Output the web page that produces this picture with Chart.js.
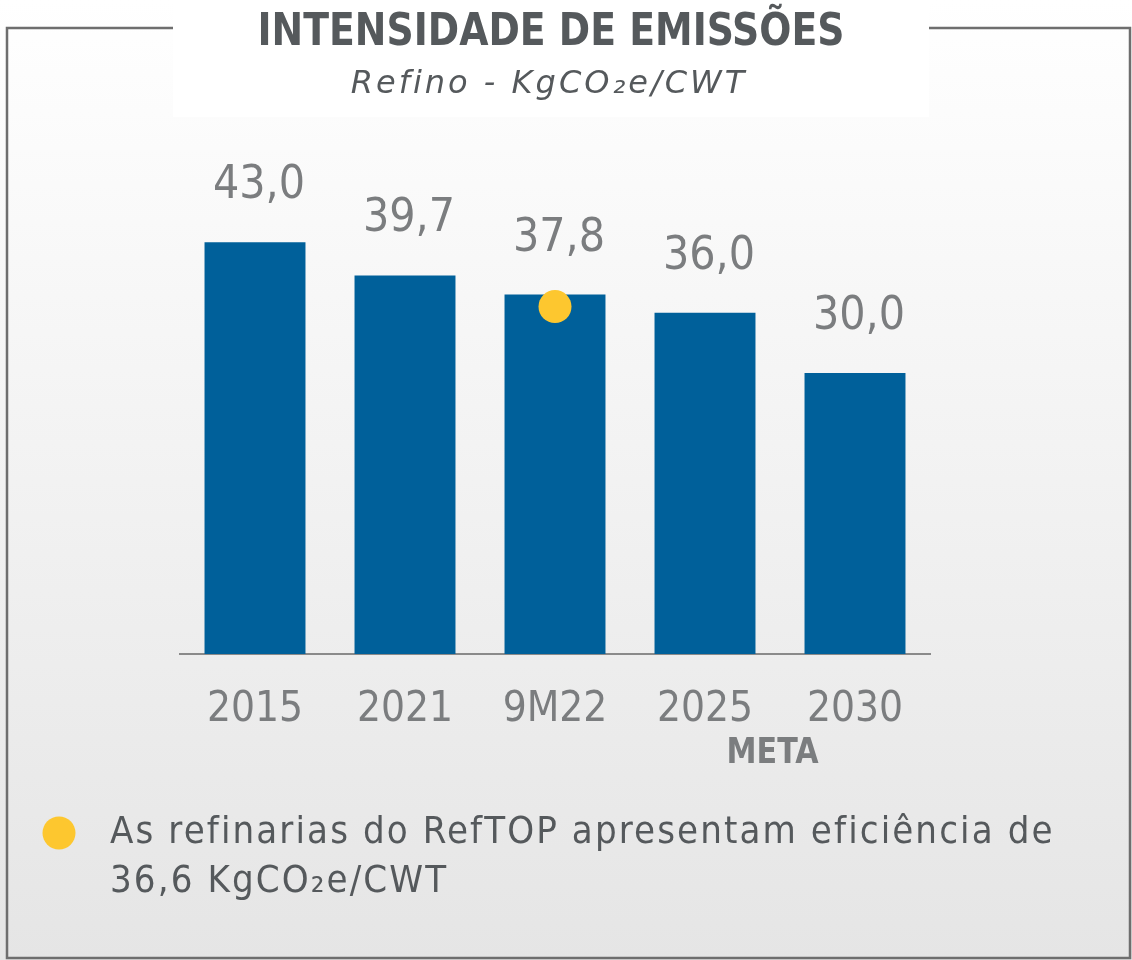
<!DOCTYPE html>
<html>
<head>
<meta charset="utf-8">
<script src="https://cdn.jsdelivr.net/npm/chart.js@4"></script>
<style>
  html, body { margin: 0; padding: 0; background: #fff; }
  #wrap { width: 1132px; height: 960px; }
</style>
</head>
<body>
<div id="wrap"><canvas id="emissoes" width="1132" height="960"></canvas></div>
<script>
const categories = ["2015", "2021", "9M22", "2025", "2030"];
const intensity = [43.0, 39.7, 37.8, 36.0, 30.0];
const refTop = [null, null, 36.6, null, null];   // RefTOP refineries marker
const titleText = "INTENSIDADE DE EMISSÕES";
const subtitleText = "Refino - KgCO₂e/CWT";
const metaText = "META";
const footnoteLines = ["As refinarias do RefTOP apresentam eficiência de", "36,6 KgCO₂e/CWT"];

const BLUE = '#00609a';
const YELLOW = '#fdc72f';
const FONT = '"DejaVu Sans Condensed", "DejaVu Sans", sans-serif';

// squeeze a text line into a given width (narrow bold face not installed)
function fitText(c, text, cx, y, width) {
    const w = c.measureText(text).width;
    c.save();
    c.translate(cx, y);
    c.scale(width / w, 1);
    c.fillText(text, 0, 0);
    c.restore();
}

// background, frame and the white title box
const framePlugin = {
    id: 'frame',
    beforeDraw(chart) {
        const c = chart.ctx;
        c.save();
        const g = c.createLinearGradient(0, 0, 0, chart.height);
        g.addColorStop(0, '#ffffff');
        g.addColorStop(1, '#e5e5e5');
        c.fillStyle = g;
        c.fillRect(0, 0, chart.width, chart.height);
        c.strokeStyle = '#6e6e6e';
        c.lineWidth = 2.5;
        c.strokeRect(7, 28, 1123, 930);
        c.fillStyle = '#ffffff';
        c.fillRect(173, 0, 756, 117);
        c.restore();
    },
    afterDraw(chart) {
        const c = chart.ctx;
        c.save();
        c.textAlign = 'center';
        c.textBaseline = 'alphabetic';
        c.fillStyle = '#55595c';
        c.font = 'bold 45px ' + FONT;
        fitText(c, titleText, 551, 45, 587);
        c.font = 'italic 32px "DejaVu Sans"';
        c.letterSpacing = '3px';
        c.fillText(subtitleText, 549, 93);
        c.letterSpacing = '0px';

        // META under the target years
        const x = chart.scales.x;
        c.fillStyle = '#7b7d7f';
        c.font = 'bold 36px ' + FONT;
        fitText(c, metaText, x.getPixelForValue(3.45), 763, 92);

        // footnote with the marker colour
        c.beginPath();
        c.arc(59, 833, 16.5, 0, Math.PI * 2);
        c.fillStyle = YELLOW;
        c.fill();
        c.textAlign = 'left';
        c.fillStyle = '#55595c';
        c.font = '38px ' + FONT;
        c.letterSpacing = '2.1px';
        footnoteLines.forEach((line, i) => c.fillText(line, 110, 843 + i * 49));
        c.restore();
    }
};

// value labels over the bars
const valueLabels = {
    id: 'valueLabels',
    afterDatasetsDraw(chart) {
        const c = chart.ctx;
        const meta = chart.getDatasetMeta(0);
        c.save();
        c.fillStyle = '#7b7d7f';
        c.font = '46px ' + FONT;
        c.textAlign = 'center';
        c.textBaseline = 'alphabetic';
        meta.data.forEach((bar, i) => {
            c.fillText(intensity[i].toFixed(1).replace('.', ','), bar.x + 4, bar.y - 44);
        });
        c.restore();
    }
};

const chart = new Chart(document.getElementById('emissoes'), {
    data: {
        labels: categories,
        datasets: [
            {
                type: 'bar',
                label: 'Intensidade',
                data: intensity,
                backgroundColor: BLUE,
                categoryPercentage: 1,
                barPercentage: 0.673,
                order: 2
            },
            {
                type: 'line',
                label: 'RefTOP',
                data: refTop,
                showLine: false,
                pointRadius: 16.5,
                pointHoverRadius: 16.5,
                pointBackgroundColor: YELLOW,
                pointBorderWidth: 0,
                order: 1
            }
        ]
    },
    options: {
        responsive: false,
        animation: false,
        events: [],
        layout: { padding: { left: 180, right: 202, top: 152, bottom: 0 } },
        plugins: {
            legend: { display: false },
            tooltip: { enabled: false },
            title: { display: false }
        },
        scales: {
            x: {
                grid: { display: false, drawTicks: false },
                border: { display: true, color: '#8a8a8a', width: 2 },
                ticks: {
                    color: '#7b7d7f',
                    font: { family: FONT, size: 42 },
                    padding: 31,
                    maxRotation: 0
                },
                afterFit: (scale) => { scale.height = 306; }
            },
            y: {
                display: false,
                min: 2,
                max: 52
            }
        }
    },
    plugins: [framePlugin, valueLabels]
});
</script>
</body>
</html>
